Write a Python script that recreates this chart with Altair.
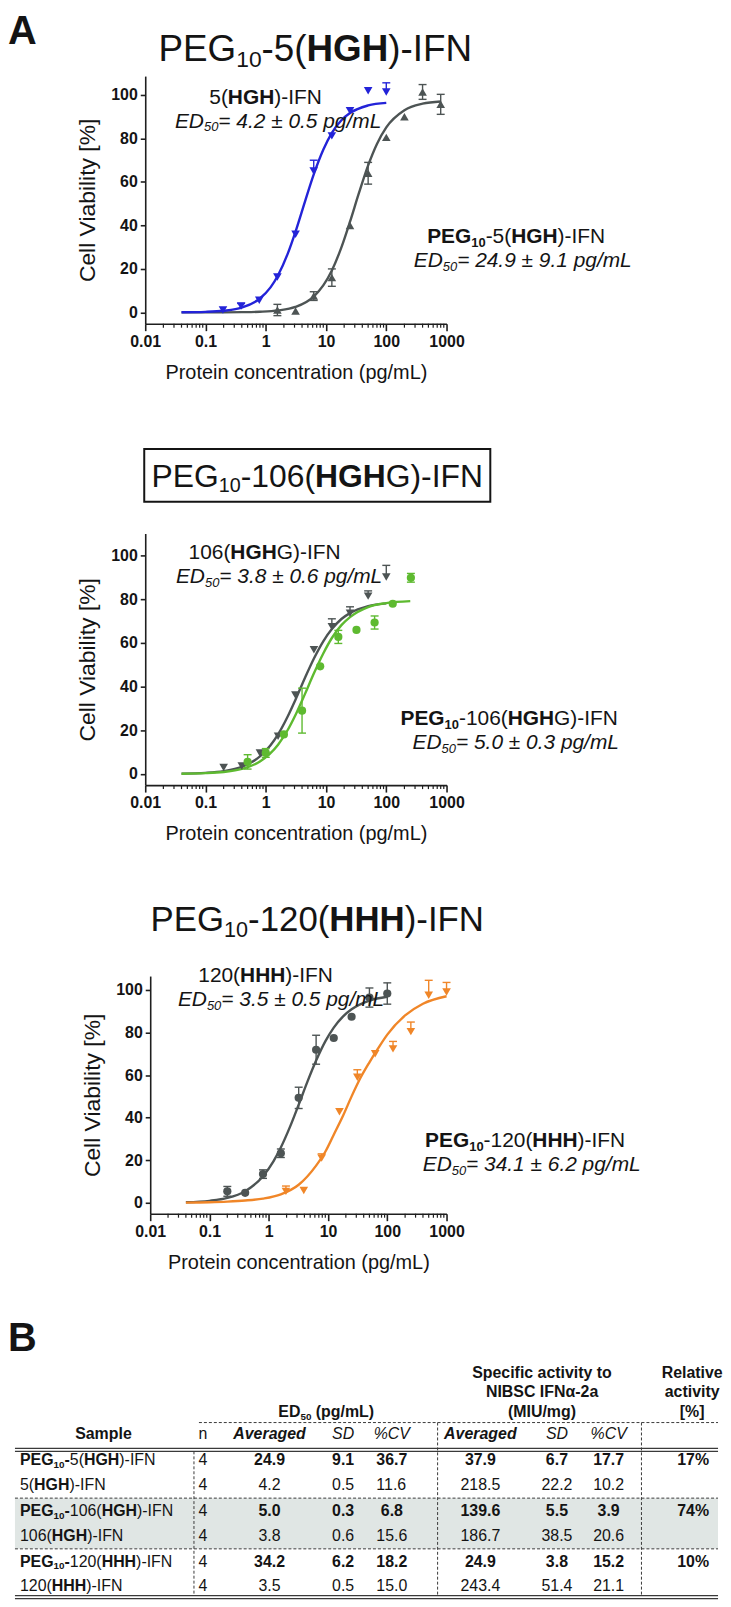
import altair as alt
import pandas as pd

FONT = "Liberation Sans"
INK = "#141414"
AX = "#1e1e1e"
BLUE = "#2323d8"
GRAY = "#4d5454"
GREEN = "#5eba30"
ORANGE = "#f08628"

# ---------------- panel 1 : PEG10-5(HGH)-IFN ----------------
p1_blue_conc = [0.195, 0.39, 0.78, 1.56, 3.125, 6.25, 12.5, 25, 50, 100]
p1_blue_mean = [1.1, 2.9, 5.6, 16.3, 35.9, 65.0, 81.2, 92.8, 102.0, 101.4]
p1_blue_err = [0, 1.2, 0, 0, 0, 5.0, 0, 0, 0, 4.2]
p1_gray_conc = [1.56, 3.125, 6.25, 12.5, 25, 50, 100, 200, 400, 800]
p1_gray_mean = [1.1, 0.6, 7.5, 16.0, 40.0, 64.0, 80.5, 90.0, 101.4, 95.7]
p1_gray_err = [2.6, 0, 2.0, 4.0, 0, 5.0, 0, 0, 3.4, 4.6]
p1_blue_fit_conc = [0.04, 0.1, 0.2, 0.4, 0.8, 1.2, 1.6, 2.3, 3.2, 4.5, 6.3, 9, 12.5, 18, 25, 50, 100]
p1_blue_fit_via = [0.06, 0.25, 0.74, 2.2, 6.4, 11.5, 17.1, 26.8, 38.1, 51.2, 63.7, 74.8, 82.6, 88.4, 91.7, 95.2, 96.4]
p1_gray_fit_conc = [0.04, 0.2, 0.4, 0.8, 1.6, 3.1, 6.25, 9, 12.5, 18, 25, 35, 50, 70, 100, 200, 400, 800]
p1_gray_fit_via = [0.0, 0.03, 0.1, 0.3, 0.9, 2.5, 7.3, 12.4, 19.3, 29.9, 41.7, 54.7, 67.6, 77.5, 85.1, 93.0, 96.0, 97.0]

# ---------------- panel 2 : PEG10-106(HGHG)-IFN ----------------
p2_gray_conc = [0.2, 0.4, 0.8, 1.6, 3.1, 6.3, 12.5, 25, 50, 100]
p2_gray_mean = [2.9, 3.6, 9.6, 17.3, 36.2, 56.9, 67.5, 73.6, 81.5, 90.3]
p2_gray_err = [0, 0, 0, 0, 0, 0, 3.6, 3.0, 2.4, 5.3]
p2_green_conc = [0.5, 1, 2, 4, 8, 16, 32, 64, 128, 256]
p2_green_mean = [5.5, 9.6, 18.1, 29.0, 49.3, 62.8, 66.0, 69.4, 78.0, 89.9]
p2_green_err = [3.3, 2.0, 0, 10.3, 0, 3.0, 0, 3.0, 0, 2.0]
p2_gray_fit_conc = [0.04, 0.1, 0.2, 0.4, 0.8, 1.2, 1.6, 2.3, 3.1, 4.5, 6.3, 9, 12.5, 18, 25, 50, 100]
p2_gray_fit_via = [0.13, 0.48, 1.26, 3.24, 8.0, 13.1, 18.1, 26.2, 33.9, 44.2, 52.9, 60.8, 66.4, 71.0, 73.7, 76.9, 78.2]
p2_green_fit_conc = [0.04, 0.1, 0.2, 0.4, 0.8, 1.6, 2.3, 3.2, 4.5, 6.3, 9, 12.5, 18, 25, 50, 100, 250]
p2_green_fit_via = [0.09, 0.33, 0.87, 2.25, 5.68, 13.4, 20.0, 27.7, 36.8, 46.1, 55.2, 62.3, 68.2, 71.9, 76.5, 78.3, 79.2]

# ---------------- panel 3 : PEG10-120(HHH)-IFN ----------------
p3_gray_conc = [0.2, 0.4, 0.8, 1.6, 3.2, 6.3, 12.5, 25, 50, 100]
p3_gray_mean = [5.4, 4.7, 13.5, 23.3, 49.3, 71.9, 77.4, 87.4, 96.4, 98.3]
p3_gray_err = [2.3, 0, 2.0, 2.0, 5.0, 6.8, 0, 0, 4.5, 5.0]
p3_orange_conc = [1.95, 3.9, 7.8, 15.6, 31.25, 62.5, 125, 250, 500, 1000]
p3_orange_mean = [5.4, 5.8, 21.0, 42.8, 59.0, 70.0, 72.3, 80.4, 97.5, 99.0]
p3_orange_err = [2.5, 0, 2.0, 0, 3.5, 0, 3.5, 4.5, 7.0, 4.5]
p3_gray_fit_conc = [0.04, 0.1, 0.2, 0.4, 0.8, 1.2, 1.6, 2.3, 3.2, 4.5, 6.3, 9, 12.5, 18, 25, 50, 100]
p3_gray_fit_via = [0.29, 0.96, 2.3, 5.5, 12.5, 19.5, 26.0, 35.9, 46.1, 56.9, 66.8, 75.8, 82.3, 87.6, 90.9, 95.0, 96.8]
p3_orange_fit_conc = [0.04, 0.1, 0.2, 0.4, 0.8, 1.6, 3.2, 6.3, 9, 12.5, 18, 25, 35, 50, 70, 100, 200, 400, 1000]
p3_orange_fit_via = [0.1, 0.3, 0.6, 1.1, 2.0, 4.0, 8.5, 17.5, 24.0, 32.0, 41.0, 50.0, 58.5, 66.0, 72.5, 79.0, 88.0, 93.5, 97.0]

# ---------------- table B ----------------
tbl_peg = [True, False, True, False, True, False]
tbl_num = ["5", "5", "106", "106", "120", "120"]
tbl_motif = ["HGH", "HGH", "HGH", "HGH", "HHH", "HHH"]
tbl_n = [4, 4, 4, 4, 4, 4]
tbl_ed_avg = [24.9, 4.2, 5.0, 3.8, 34.2, 3.5]
tbl_ed_sd = [9.1, 0.5, 0.3, 0.6, 6.2, 0.5]
tbl_ed_cv = [36.7, 11.6, 6.8, 15.6, 18.2, 15.0]
tbl_sa_avg = [37.9, 218.5, 139.6, 186.7, 24.9, 243.4]
tbl_sa_sd = [6.7, 22.2, 5.5, 38.5, 3.8, 51.4]
tbl_sa_cv = [17.7, 10.2, 3.9, 20.6, 15.2, 21.1]
tbl_rel = ["17%", "", "74%", "", "10%", ""]

MAJOR = [0.01, 0.1, 1, 10, 100, 1000]
MINOR = [m * 10.0 ** e for e in range(-2, 3) for m in range(2, 10)]
YTICKS = [0, 20, 40, 60, 80, 100]

# ---------------- text helpers (layout only) ----------------
W_REG = {' ': 278, '%': 889, '(': 333, ')': 333, '-': 333, '.': 278, '/': 278, '=': 584,
         '[': 278, ']': 278, '±': 584, 'α': 578,
         'A': 667, 'B': 667, 'C': 722, 'D': 722, 'E': 667, 'F': 611, 'G': 778, 'H': 722,
         'I': 278, 'L': 556, 'M': 833, 'N': 722, 'O': 778, 'P': 667, 'R': 722, 'S': 667,
         'U': 722, 'V': 667, 'a': 556, 'b': 556, 'c': 500, 'd': 556, 'e': 556, 'f': 278,
         'g': 556, 'h': 556, 'i': 222, 'l': 222, 'm': 833, 'n': 556, 'o': 556, 'p': 556,
         'r': 333, 's': 500, 't': 278, 'u': 556, 'v': 500, 'y': 500}
W_BOLD = {' ': 278, '%': 889, '(': 333, ')': 333, '-': 333, '.': 278, '/': 278, '=': 584,
          '[': 333, ']': 333, '±': 584, 'α': 600,
          'A': 722, 'B': 722, 'C': 722, 'D': 722, 'E': 667, 'F': 611, 'G': 778, 'H': 722,
          'I': 278, 'L': 611, 'M': 833, 'N': 722, 'O': 778, 'P': 667, 'R': 722, 'S': 667,
          'U': 722, 'V': 667, 'a': 556, 'b': 611, 'c': 556, 'd': 611, 'e': 556, 'f': 333,
          'g': 611, 'h': 611, 'i': 278, 'l': 278, 'm': 889, 'n': 611, 'o': 611, 'p': 611,
          'r': 389, 's': 556, 't': 333, 'u': 611, 'v': 556, 'y': 556}


def tw(text, size, bold):
    tb = W_BOLD if bold else W_REG
    return sum(tb.get(ch, 556) for ch in text) * size / 1000.0


def rich(parts, x, y, size, frame, align="center", color=INK, baseline="alphabetic"):
    items, total = [], 0.0
    for text, st in parts:
        sub = st.startswith("s")
        st2 = st[1:] if sub else st
        sz = size * 0.62 if sub else size
        bold, italic = "b" in st2, "i" in st2
        w = tw(text, sz, bold)
        items.append((text, sz, bold, italic, sub, w))
        total += w
    cur = x - total / 2 if align == "center" else (x - total if align == "right" else x)
    rows = []
    for text, sz, bold, italic, sub, w in items:
        stripped = text.lstrip(" ")
        lead = tw(text[: len(text) - len(stripped)], sz, bold)
        if stripped:
            rows.append(dict(t=stripped, x=cur + lead - frame[0],
                             y=y + (0.17 * size if sub else 0) - frame[1],
                             size=round(sz, 2), weight="bold" if bold else "normal",
                             style="italic" if italic else "normal", color=color, base=baseline))
        cur += w
    return rows


def text_layers(rows):
    df = pd.DataFrame(rows)
    out = []
    for (size, weight, style, color, base), g in df.groupby(["size", "weight", "style", "color", "base"], sort=False):
        out.append(
            alt.Chart(g.reset_index(drop=True))
            .mark_text(align="left", baseline=base, font=FONT, fontSize=float(size),
                       fontWeight=weight, fontStyle=style, color=color)
            .encode(x=alt.X("x:Q", scale=None), y=alt.Y("y:Q", scale=None), text="t:N")
        )
    return out


def frame_df(segs, frame):
    return pd.DataFrame([dict(x=a - frame[0], x2=b - frame[0], y=c - frame[1], y2=d - frame[1])
                         for a, b, c, d in segs])


def seg_rules(segs, frame, color, width, dash=None):
    kw = dict(color=color, strokeWidth=width)
    if dash:
        kw["strokeDash"] = dash
    return alt.Chart(frame_df(segs, frame)).mark_rule(**kw).encode(
        x=alt.X("x:Q", scale=None), x2="x2:Q", y=alt.Y("y:Q", scale=None), y2="y2:Q")


def rect_layer(segs, frame, **kw):
    return alt.Chart(frame_df(segs, frame)).mark_rect(**kw).encode(
        x=alt.X("x:Q", scale=None), x2="x2:Q", y=alt.Y("y:Q", scale=None), y2="y2:Q")


def panel(width, chart_h, plot_h, x0, ydom, fits, series, extra):
    xs = alt.Scale(type="log", domain=[0.01, 1000], range=[x0, width], nice=False)
    ys = alt.Scale(domain=ydom, range=[plot_h, 0], nice=False, zero=False)
    xax = alt.Axis(values=MAJOR, format="~g", title="Protein concentration (pg/mL)", titleFontSize=20,
                   tickSize=7, labelPadding=3, titlePadding=13, grid=False, labelFlush=False,
                   labelOverlap=False, offset=plot_h - chart_h, orient="bottom")
    yax = alt.Axis(values=YTICKS, title="Cell Viability [%]", titleFontSize=23,
                   tickSize=5, labelPadding=3, titlePadding=11, grid=False, offset=-x0, orient="left")
    X = lambda f: alt.X(f, scale=xs, axis=xax)
    Y = lambda f: alt.Y(f, scale=ys, axis=yax)
    layers = [
        alt.Chart(pd.DataFrame({"v": MINOR})).mark_rule(color=AX, strokeWidth=1.2).encode(
            x=X("v:Q"), y=alt.value(plot_h), y2=alt.value(plot_h + 4))
    ]
    for conc, via, color in fits:
        df = pd.DataFrame({"c": conc, "v": via})
        layers.append(alt.Chart(df).mark_line(color=color, strokeWidth=2.4, interpolate="monotone").encode(
            x=X("c:Q"), y=Y("v:Q")))
    for conc, mean, err, color, shape, two in series:
        lo = [m - e if two else m for m, e in zip(mean, err)]
        hi = [m + e for m, e in zip(mean, err)]
        df = pd.DataFrame({"c": conc, "m": mean, "lo": lo, "hi": hi, "e": err})
        dfe = df[df.e > 0].reset_index(drop=True)
        if len(dfe):
            layers.append(alt.Chart(dfe).mark_rule(color=color, strokeWidth=1.4).encode(
                x=X("c:Q"), y=Y("lo:Q"), y2="hi:Q"))
            cap = dict(shape="M-1,0L1,0", size=64, filled=False, strokeWidth=1.4, color=color, opacity=1)
            layers.append(alt.Chart(dfe).mark_point(**cap).encode(x=X("c:Q"), y=Y("hi:Q")))
            if two:
                layers.append(alt.Chart(dfe).mark_point(**cap).encode(x=X("c:Q"), y=Y("lo:Q")))
        layers.append(alt.Chart(df).mark_point(shape=shape, filled=True, size=75 if shape != "circle" else 68,
                                               color=color, opacity=1).encode(x=X("c:Q"), y=Y("m:Q")))
    layers += extra
    return alt.layer(*layers).properties(width=width, height=chart_h)


# ---------------- layout frames (page px of each chart's top-left) ----------------
GAP = 154
F1 = (146, 72)
P1H, C1H = 249, 306
F2 = (146, F1[1] + C1H + GAP)          # 532
P2H, C2H = 253, 291
F3 = (146, F2[1] + C2H + GAP)          # 977
P3H, C3H = 239, 239
FT = (146, F3[1] + C3H + GAP)          # 1370
W = 303
AS = 21

# panel 1 texts
r1 = []
r1 += rich([("A", "b")], 8, 8, 40, F1, align="left", baseline="top")
r1 += rich([("PEG", "n"), ("10", "sn"), ("-5(", "n"), ("HGH", "b"), (")-IFN", "n")], 317, 57, 37, F1)
r1 += rich([("5(", "n"), ("HGH", "b"), (")-IFN", "n")], 267, 100, AS, F1)
r1 += rich([("ED", "i"), ("50", "si"), ("= 4.2 ± 0.5 pg/mL", "i")], 280, 124, AS, F1)
r1 += rich([("PEG", "b"), ("10", "sb"), ("-5(", "n"), ("HGH", "b"), (")-IFN", "n")], 519, 240, AS, F1)
r1 += rich([("ED", "i"), ("50", "si"), ("= 24.9 ± 9.1 pg/mL", "i")], 526, 264, AS, F1)

p1 = panel(W, C1H, P1H, 0, [-5.2, 108.7],
           [(p1_gray_fit_conc, p1_gray_fit_via, GRAY), (p1_blue_fit_conc, p1_blue_fit_via, BLUE)],
           [(p1_blue_conc, p1_blue_mean, p1_blue_err, BLUE, "triangle-down", False),
            (p1_gray_conc, p1_gray_mean, p1_gray_err, GRAY, "triangle-up", True)],
           text_layers(r1))

# panel 2 texts
r2 = []
r2 += rich([("PEG", "n"), ("10", "sn"), ("-106(", "n"), ("HGH", "b"), ("G)-IFN", "n")], 319, 485, 32, F2)
r2 += rich([("106(", "n"), ("HGH", "b"), ("G)-IFN", "n")], 266, 558, AS, F2)
r2 += rich([("ED", "i"), ("50", "si"), ("= 3.8 ± 0.6 pg/mL", "i")], 281, 582, AS, F2)
r2 += rich([("PEG", "b"), ("10", "sb"), ("-106(", "n"), ("HGH", "b"), ("G)-IFN", "n")], 512, 725, AS, F2)
r2 += rich([("ED", "i"), ("50", "si"), ("= 5.0 ± 0.3 pg/mL", "i")], 519, 749, AS, F2)
box2 = rect_layer([(145, 493, 447, 500)], F2, fillOpacity=0, stroke=INK, strokeWidth=2)

p2 = panel(W, C2H, P2H, 0, [-5.15, 110.2],
           [(p2_gray_fit_conc, p2_gray_fit_via, GRAY), (p2_green_fit_conc, p2_green_fit_via, GREEN)],
           [(p2_gray_conc, p2_gray_mean, p2_gray_err, GRAY, "triangle-down", False),
            (p2_green_conc, p2_green_mean, p2_green_err, GREEN, "circle", True)],
           [box2] + text_layers(r2))

# panel 3 texts
r3 = []
r3 += rich([("PEG", "n"), ("10", "sn"), ("-120(", "n"), ("HHH", "b"), (")-IFN", "n")], 319, 932, 35, F3)
r3 += rich([("120(", "n"), ("HHH", "b"), (")-IFN", "n")], 267, 983, AS, F3)
r3 += rich([("ED", "i"), ("50", "si"), ("= 3.5 ± 0.5 pg/mL", "i")], 283, 1007.5, AS, F3)
r3 += rich([("PEG", "b"), ("10", "sb"), ("-120(", "n"), ("HHH", "b"), (")-IFN", "n")], 528, 1149, AS, F3)
r3 += rich([("ED", "i"), ("50", "si"), ("= 34.1 ± 6.2 pg/mL", "i")], 535, 1173.5, AS, F3)

p3 = panel(W, C3H, P3H, 5, [-5.1, 106.5],
           [(p3_gray_fit_conc, p3_gray_fit_via, GRAY), (p3_orange_fit_conc, p3_orange_fit_via, ORANGE)],
           [(p3_gray_conc, p3_gray_mean, p3_gray_err, GRAY, "circle", True),
            (p3_orange_conc, p3_orange_mean, p3_orange_err, ORANGE, "triangle-down", False)],
           text_layers(r3))

# ---------------- table ----------------
TSZ = 16
row_c = [1463, 1488, 1514, 1539, 1565, 1590]
col_x = dict(n=204, ea=271, es=345, ec=394, sa=483, ss=560, sc=612, rel=697)
rt = []
rt += rich([("B", "b")], 8, 1322, 40, FT, align="left", baseline="top")
rt += rich([("Specific activity to", "b")], 545, 1381.5, TSZ, FT)
rt += rich([("NIBSC IFNα-2a", "b")], 545, 1400.5, TSZ, FT)
rt += rich([("(MIU/mg)", "b")], 545, 1420.5, TSZ, FT)
rt += rich([("Relative", "b")], 696, 1381.5, TSZ, FT)
rt += rich([("activity", "b")], 696, 1400.5, TSZ, FT)
rt += rich([("[%]", "b")], 696, 1420.5, TSZ, FT)
rt += rich([("ED", "b"), ("50", "sb"), (" (pg/mL)", "b")], 328, 1420.5, TSZ, FT)
hb = 1442.5
rt += rich([("Sample", "b")], 104, hb, TSZ, FT)
rt += rich([("n", "n")], col_x["n"], hb, TSZ, FT)
for key, txt, st in [("ea", "Averaged", "bi"), ("es", "SD", "i"), ("ec", "%CV", "i"),
                     ("sa", "Averaged", "bi"), ("ss", "SD", "i"), ("sc", "%CV", "i")]:
    rt += rich([(txt, st)], col_x[key], hb, TSZ, FT)
for i in range(6):
    base = row_c[i] + 5.8
    parts = []
    if tbl_peg[i]:
        parts += [("PEG", "b"), ("10", "sb"), ("-", "b")]
    parts += [(tbl_num[i] + "(", "n"), (tbl_motif[i], "b"), (")-IFN", "n")]
    rt += rich(parts, 20, base, TSZ, FT, align="left")
    vs = "b" if tbl_peg[i] else "n"
    rt += rich([(str(tbl_n[i]), "n")], col_x["n"], base, TSZ, FT)
    for key, arr in [("ea", tbl_ed_avg), ("es", tbl_ed_sd), ("ec", tbl_ed_cv),
                     ("sa", tbl_sa_avg), ("ss", tbl_sa_sd), ("sc", tbl_sa_cv)]:
        rt += rich([(f"{arr[i]:.1f}", vs)], col_x[key], base, TSZ, FT)
    if tbl_rel[i]:
        rt += rich([(tbl_rel[i], "b")], col_x["rel"], base, TSZ, FT)

shade = rect_layer([(15, 722, 1502, 1553)], FT, color="#e0e6e4")
solid = seg_rules([(15, 722, 1452, 1452), (15, 722, 1455, 1455), (15, 722, 1600, 1600), (15, 722, 1603, 1603)],
                  FT, "#3a3a3a", 1.2)
dashed = seg_rules([(200, 722, 1426, 1426), (15, 722, 1502, 1502), (15, 722, 1553, 1553),
                    (195, 195, 1455, 1600), (440, 440, 1426, 1600), (645, 645, 1426, 1600)],
                   FT, "#3a3a3a", 1.0, dash=[3, 2])
table = alt.layer(shade, solid, dashed, *text_layers(rt)).properties(width=W, height=220)

chart = (
    alt.vconcat(p1, p2, p3, table, spacing=GAP, bounds="flush")
    .properties(padding=0)
    .configure_view(strokeWidth=0)
    .configure_axis(domainColor=AX, domainWidth=1.6, tickColor=AX, tickWidth=1.6, labelFont=FONT,
                    labelFontSize=16, labelFontWeight="bold", labelColor=INK, titleFont=FONT,
                    titleFontWeight="normal", titleColor=INK)
    .configure_text(font=FONT)
)
chart.save("out.html", embed_options={"renderer": "svg", "actions": False})
